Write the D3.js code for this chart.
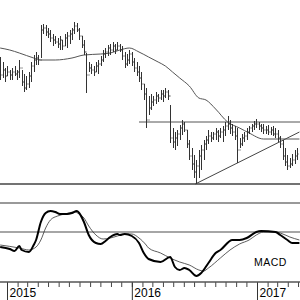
<!DOCTYPE html>
<html><head><meta charset="utf-8">
<script src="https://cdn.jsdelivr.net/npm/d3@7/dist/d3.min.js"></script>
<style>body{margin:0;background:#fff}svg{display:block}</style>
</head><body>
<svg id="c" width="300" height="300"></svg>
<script>
// ---- data (weekly bars, week index from start date) ----
const startDate = new Date(2014, 11, 12);
const highs = [143,138,132,134,130,132,134,130,140,130,126,124,128,138,145,148,145,175,176,175,172,170,166,164,162,164,160,166,168,170,172,178,177,172,164,160,147,138,136,134,138,140,144,150,152,155,156,158,156,158,156,154,148,146,150,148,142,138,134,128,116,112,104,106,104,108,106,110,110,112,110,95,72,68,70,75,80,78,70,60,52,45,40,50,55,60,64,70,68,68,72,70,72,74,78,84,80,76,74,72,62,66,68,72,74,76,79,81,78,76,76,74,75,73,74,72,70,64,60,52,45,42,46,50,52];
const lows  = [120,122,118,124,120,120,124,120,122,114,108,110,112,118,128,135,135,142,166,164,162,158,154,156,152,150,150,154,152,156,160,166,168,160,152,145,107,128,126,124,128,126,134,138,142,144,145,148,146,150,148,140,132,134,136,134,128,124,118,110,100,72,85,90,94,96,98,100,98,102,100,57,52,50,54,60,65,68,52,40,30,22,16,22,30,40,50,56,58,60,60,58,62,58,64,70,66,64,60,37,52,54,58,60,66,68,70,72,70,68,66,66,65,65,64,62,58,52,40,34,30,32,34,36,40];
const closes= [125,130,124,128,125,128,126,128,132,118,112,116,124,134,140,142,140,170,172,168,166,162,160,158,156,160,154,162,164,166,170,174,170,164,155,148,125,132,130,128,134,136,140,146,148,152,150,154,150,154,150,144,136,140,146,138,132,128,122,116,106,80,92,98,100,104,102,106,104,108,104,62,58,62,66,72,76,70,56,44,36,28,34,44,50,56,60,64,62,66,68,64,68,70,74,76,72,68,64,50,56,62,64,68,72,74,76,76,74,72,70,70,68,70,66,66,62,56,44,38,34,36,40,44,46];

// 40-week moving average: [week, value]
const maWeeks = [0,4,8,14,17,23,30,35,42,46,50,54,58,62,66,69,72,75,79,83,86,90,95,100,104,110,117,125];
const maVals  = [152,150,147,142,140,140,142,145,146,147,150,152,148,143,138,134,128,122,114,102,100,91,78,72,67,61,61,61];

// reference lines
const supportLevel = 16;
const resistanceLevel = 78;
const resistanceStart = 58;
const trendWeeks = [81.5, 125];
const trendVals  = [16, 68];

// MACD
const macdWeeks = [0,4,6,8,9,12,14,15,17,19,21,23,25,28,30,32,33,35,37,40,42,44,46,49,50,52,55,58,60,62,67,71,73,75,77,79,82,84,87,90,92,97,100,103,107,109,115,117,120,122,125];
const macdVals  = [-0.75,-0.85,-0.95,-0.7,-0.9,-1.0,-0.65,-0.4,0.5,0.95,1.05,1.0,0.9,0.9,0.95,1.05,0.95,0.5,-0.15,-0.55,-0.6,-0.45,-0.25,-0.1,-0.15,-0.1,-0.2,-0.55,-1.05,-1.35,-1.5,-1.25,-1.75,-1.9,-1.8,-1.9,-2.2,-2.05,-1.55,-1.05,-0.9,-0.4,-0.4,-0.3,0,0.05,0,-0.15,-0.4,-0.55,-0.55];
const sigWeeks = [0,8,12,15,17,19,21,24,27,31,33,35,37,40,43,46,49,52,55,58,61,62,67,71,75,79,83,85,87,92,96,100,104,107,110,115,117,121,125];
const sigVals  = [-0.65,-0.8,-0.9,-0.75,-0.4,0.2,0.6,0.8,0.9,1.0,0.9,0.7,0.3,-0.15,-0.35,-0.3,-0.2,-0.1,-0.1,-0.3,-0.65,-0.8,-1.05,-1.3,-1.5,-1.65,-1.9,-1.95,-1.8,-1.3,-0.9,-0.6,-0.4,-0.15,0,0,-0.05,-0.25,-0.4];
const macdLabel = "MACD";
const yearTicks = [new Date(2015,0,1), new Date(2016,0,1), new Date(2017,0,1)];

// ---- drawing ----
const svg = d3.select("#c");
const W = 300;
const wk = i => new Date(startDate.getTime() + i * 7 * 864e5);
const x = d3.scaleTime().domain([new Date(2015,0,1), new Date(2017,0,1)]).range([7, 257]);
const y = d3.scaleLinear().domain([16, 200]).range([184, 0]);
const my = d3.scaleLinear().domain([-2.5, 1.5]).range([282, 202]);

const bars = highs.map((h, i) => ({d: wk(i), h, l: lows[i], c: closes[i], o: i ? closes[i-1] : closes[i]}));

// support line
svg.append("line").attr("x1", 0).attr("x2", W).attr("y1", y(supportLevel)).attr("y2", y(supportLevel))
  .attr("stroke", "#444").attr("stroke-width", 1.3);
// resistance
svg.append("line").attr("x1", x(wk(resistanceStart))).attr("x2", W)
  .attr("y1", y(resistanceLevel)).attr("y2", y(resistanceLevel)).attr("stroke", "#555").attr("stroke-width", 1);
// trend line
svg.append("line").attr("x1", x(wk(trendWeeks[0]))).attr("x2", x(wk(trendWeeks[1])))
  .attr("y1", y(trendVals[0])).attr("y2", y(trendVals[1])).attr("stroke", "#444").attr("stroke-width", 1);

// MA
const maLine = d3.line().x((d, i) => x(wk(maWeeks[i]))).y(d => y(d)).curve(d3.curveMonotoneX);
svg.append("path").attr("d", maLine(maVals)).attr("fill", "none").attr("stroke", "#555").attr("stroke-width", 1);

// OHLC bars
const g = svg.append("g").attr("stroke", "#333").attr("stroke-width", 1);
bars.forEach(b => {
  const cx = Math.round(x(b.d)) + 0.5;
  g.append("line").attr("x1", cx).attr("x2", cx).attr("y1", y(b.h)).attr("y2", y(b.l));
  g.append("line").attr("x1", cx - 1).attr("x2", cx).attr("y1", y(b.o)).attr("y2", y(b.o));
  g.append("line").attr("x1", cx).attr("x2", cx + 1).attr("y1", y(b.c)).attr("y2", y(b.c));
});

// panel separator
svg.append("line").attr("x1", 0).attr("x2", W).attr("y1", 203).attr("y2", 203).attr("stroke", "#999").attr("stroke-width", 2);
// MACD zero line
svg.append("line").attr("x1", 0).attr("x2", W).attr("y1", my(0)).attr("y2", my(0)).attr("stroke", "#888").attr("stroke-width", 1.5);

const sigLine = d3.line().x((d, i) => x(wk(sigWeeks[i]))).y(d => my(d)).curve(d3.curveMonotoneX);
svg.append("path").attr("d", sigLine(sigVals)).attr("fill", "none").attr("stroke", "#333").attr("stroke-width", 0.8);
const macdLine = d3.line().x((d, i) => x(wk(macdWeeks[i]))).y(d => my(d)).curve(d3.curveMonotoneX);
svg.append("path").attr("d", macdLine(macdVals)).attr("fill", "none").attr("stroke", "#000").attr("stroke-width", 2);

svg.append("text").attr("x", 254).attr("y", 266).text(macdLabel)
  .attr("font-family", "Liberation Sans, Arial, sans-serif").attr("font-size", 10.5).attr("fill", "#000")
  .attr("letter-spacing", 0.5);

// axis
const dom = [x.invert(0), x.invert(W)];
const ax = svg.append("g").attr("transform", "translate(0,282)");
ax.call(d3.axisBottom(x).tickValues(d3.timeMonth.range(dom[0], dom[1])).tickSize(5).tickFormat(""));
ax.select(".domain").remove();
ax.selectAll("line").attr("stroke", "#444");
const ay = svg.append("g").attr("transform", "translate(0,282)");
ay.call(d3.axisBottom(x).tickValues(yearTicks).tickSize(18).tickFormat(d3.timeFormat("%Y")));
ay.select(".domain").remove();
ay.selectAll("line").attr("stroke", "#333");
ay.selectAll("text").attr("text-anchor", "start").attr("x", 2).attr("y", 6).attr("dy", "0.71em")
  .attr("font-family", "Liberation Sans, Arial, sans-serif").attr("font-size", 12).attr("fill", "#000");
svg.append("line").attr("x1", 0).attr("x2", W).attr("y1", 282).attr("y2", 282).attr("stroke", "#555").attr("stroke-width", 1.5);
</script>
</body></html>
